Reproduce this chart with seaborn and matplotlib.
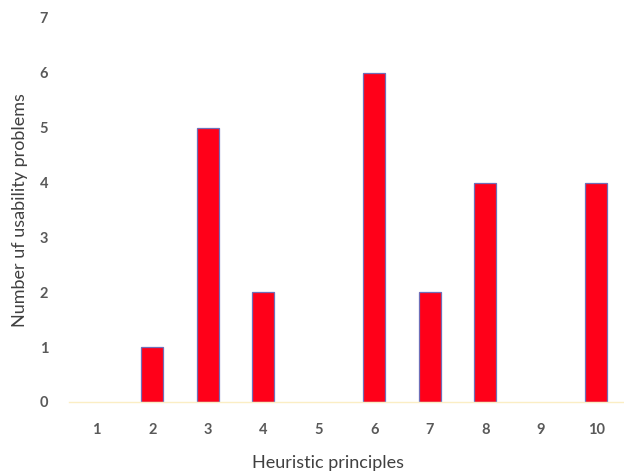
import matplotlib
matplotlib.use('Agg')
import matplotlib.pyplot as plt
import seaborn as sns
import pandas as pd

principles = ['1', '2', '3', '4', '5', '6', '7', '8', '9', '10']
problems = [0, 1, 5, 2, 0, 6, 2, 4, 0, 4]

sns.set_style('white')
plt.rcParams['font.family'] = ['Lato', 'DejaVu Sans']

df = pd.DataFrame({'principle': principles, 'problems': problems})

fig = plt.figure(figsize=(6.24, 4.71), dpi=100)
ax = fig.add_axes([0.1106, 0.1465, 0.8894, 0.8153])

sns.barplot(data=df, x='principle', y='problems', ax=ax, color='#ff0019',
            width=0.4, edgecolor='#6f6fb8', linewidth=0.9, saturation=1)
# no outline for empty bars
for p in ax.patches:
    if p.get_height() == 0:
        p.set_linewidth(0)

ax.set_xlim(-0.5, 9.41)
ax.set_ylim(0, 7)
ax.set_yticks(range(0, 8))

for s in ['top', 'right', 'left']:
    ax.spines[s].set_visible(False)
ax.spines['bottom'].set_color('#fbeec4')
ax.spines['bottom'].set_linewidth(1.0)

ax.tick_params(axis='both', which='major', length=0, labelsize=10.5,
               labelcolor='#595959', pad=15)
for lbl in ax.get_xticklabels() + ax.get_yticklabels():
    lbl.set_fontweight('bold')
ax.set_xticks([i + 0.5 for i in range(-1, 10)], minor=True)
ax.tick_params(axis='x', which='minor', direction='in', length=3,
               color='#fbeec4', width=1)

ax.set_xlabel('Heuristic principles', fontsize=13, color='#404040')
ax.set_ylabel('Number uf usability problems', fontsize=13, color='#404040')
ax.xaxis.set_label_coords(0.467, -0.137)
ax.yaxis.set_label_coords(-0.074, 0.5)

fig.savefig('out.png', dpi=100)
